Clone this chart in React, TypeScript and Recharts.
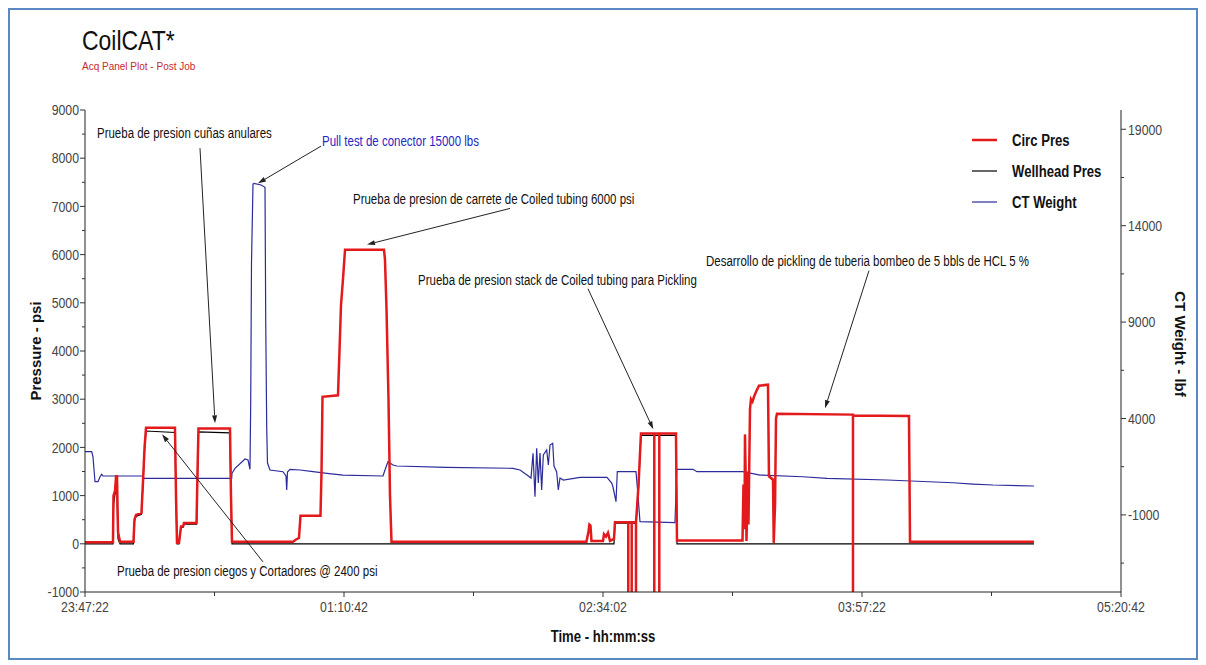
import React from 'react';
import { LineChart, Line, XAxis, YAxis, ReferenceLine, ReferenceDot } from 'recharts';

const SANS = "'Liberation Sans', Arial, sans-serif";
// Arial-metric font squeezed horizontally to get a narrow face
const NARROW_SCALE = 0.82;

const WIDTH = 1190;
const HEIGHT = 652;

// time is counted in seconds after 23:47:22
const START_SEC = 23 * 3600 + 47 * 60 + 22;
const timeTicks = [0, 2500, 5000, 7500, 10000, 12500, 15000, 17500, 20000];
const pressureTicks = [-1000, -500, 0, 500, 1000, 1500, 2000, 2500, 3000, 3500, 4000, 4500, 5000, 5500, 6000, 6500, 7000, 7500, 8000, 8500, 9000];
const weightTicks = [-3500, -1000, 1500, 4000, 6500, 9000, 11500, 14000, 16500, 19000];

// [seconds, psi]
const circPres: [number, number][] = [
  [0, 30], [540, 30], [550, 1000], [580, 1100], [600, 1400], [618, 1400], [637, 250], [676, 40],
  [936, 40], [955, 500], [985, 600], [1090, 640], [1120, 1300], [1150, 2000], [1178, 2410], [1737, 2410],
  [1757, 1000], [1776, 20], [1815, 20], [1853, 360], [1892, 360], [1911, 430], [2153, 430], [2172, 1500],
  [2191, 2390], [2799, 2390], [2818, 1000], [2838, 40], [4015, 40], [4073, 90], [4131, 120], [4160, 580],
  [4546, 580], [4566, 1500], [4585, 3050], [4884, 3080], [4913, 4000], [4942, 4950], [4981, 5500], [5020, 6100],
  [5772, 6100], [5791, 5900], [5820, 4900], [5859, 3000], [5888, 1000], [5917, 40], [9680, 40], [9719, 250],
  [9738, 400], [9758, 380], [9777, 60], [10000, 60], [10019, 200], [10058, 150], [10096, 230], [10135, 60],
  [10212, 100], [10231, 445], [10488, 445], [10488, -1000], [10488, 445], [10554, 445], [10554, -1000], [10554, 445],
  [10637, 445], [10637, -1000], [10637, 445], [10685, 1200], [10733, 2290], [10990, 2290], [10990, -1000], [10990, 2290],
  [11087, 2290], [11087, -1000], [11087, 2290], [11409, 2290], [11428, 70], [12693, 70], [12712, 1230], [12732, 300],
  [12741, 2270], [12760, 1000], [12770, 60], [12799, 1500], [12808, 400], [12838, 2800], [12857, 3000], [12886, 2950],
  [12915, 3050], [12953, 3150], [13011, 3280], [13185, 3300], [13204, 1400], [13282, 1330], [13296, 20], [13321, 800],
  [13340, 2600], [13359, 2700], [14826, 2680], [14826, -1000], [14826, 2660], [15907, 2650], [15927, 40], [18320, 40],
];

// [seconds, psi]
const wellheadPres: [number, number][] = [
  [0, 0], [540, 0], [550, 800], [575, 1000], [600, 1150], [618, 1000], [637, 100], [676, 0],
  [936, 0], [955, 470], [985, 570], [1090, 610], [1120, 1250], [1150, 1950], [1178, 2340], [1737, 2310],
  [1757, 900], [1776, 0], [1815, 0], [1853, 340], [1892, 340], [1911, 410], [2153, 410], [2172, 1400],
  [2191, 2320], [2799, 2300], [2818, 900], [2838, 0], [10212, 0], [10231, 430], [10637, 430], [10685, 1150],
  [10733, 2250], [11409, 2250], [11428, 0], [18320, 0],
];

// [seconds, lbf]
const ctWeight: [number, number][] = [
  [0, 2276], [129, 2276], [154, 2016], [193, 720], [251, 720], [290, 979], [322, 1104], [347, 1016],
  [1120, 1016], [1139, 896], [2832, 896], [2838, 1156], [2896, 1415], [3089, 1897], [3147, 1845], [3185, 1363],
  [3199, 4800], [3214, 12000], [3243, 16162], [3263, 16190], [3398, 16110], [3475, 15990], [3489, 9000], [3508, 3500],
  [3523, 1690], [3571, 1327], [3822, 1239], [3880, 1016], [3894, 289], [3909, 1223], [3958, 1363], [4151, 1327],
  [4402, 1239], [4672, 1156], [4981, 1067], [5753, 1016], [5791, 1327], [5849, 1757], [5946, 1586], [6017, 1534],
  [6969, 1467], [8263, 1415], [8398, 1327], [8533, 1067], [8610, 911], [8649, 2193], [8687, -58], [8720, 2452],
  [8751, 653], [8784, 2209], [8816, 289], [8848, 2105], [8913, 2364], [8945, 1586], [8977, 2624], [9029, 2711],
  [9054, 1534], [9106, 1223], [9137, 289], [9170, 911], [9234, 808], [9556, 948], [10077, 948], [10168, 653],
  [10193, 445], [10251, -318], [10276, 1239], [10637, 1239], [10675, 30], [10714, -1355], [11390, -1400], [11423, 1363],
  [11737, 1363], [11814, 1239], [12702, 1239], [13031, 1067], [13861, 979], [14324, 896], [15483, 808], [16757, 667],
  [17143, 600], [17529, 549], [18320, 497],
];

// callouts: text anchor and arrow, in [seconds, psi]
const notes = [
  { text: 'Prueba de presion cuñas anulares', color: '#111', at: [232, 8521], from: [2220, 8208], to: [2510, 2500] },
  { text: 'Pull test de conector 15000 lbs', color: '#2626c4', at: [4575, 8354], from: [4556, 8250], to: [3340, 7479] },
  { text: 'Prueba de presion de carrete de Coiled tubing 6000 psi', color: '#111', at: [5174, 7146], from: [8205, 6958], to: [5444, 6208] },
  { text: 'Prueba de presion stack de Coiled tubing para Pickling', color: '#111', at: [6429, 5479], from: [9710, 5292], to: [10971, 2375] },
  { text: 'Desarrollo de pickling de tuberia bombeo de 5 bbls de HCL 5 %', color: '#111', at: [11988, 5875], from: [15135, 5667], to: [14286, 2813] },
  { text: 'Prueba de presion ciegos y Cortadores @ 2400 psi', color: '#111', at: [618, -563], from: [3436, -375], to: [1487, 2271] },
];

const legendItems = [
  { name: 'Circ Pres', color: '#e3191c', width: 2.5 },
  { name: 'Wellhead Pres', color: '#000000', width: 1.2 },
  { name: 'CT Weight', color: '#2b2b9c', width: 1.2 },
];

const toRows = (pts: [number, number][]) => pts.map(([t, v]) => ({ t, v }));

const fmtTime = (s: number) => {
  const c = (START_SEC + s) % 86400;
  const p = (n: number) => String(n).padStart(2, '0');
  return `${p(Math.floor(c / 3600))}:${p(Math.floor((c % 3600) / 60))}:${p(c % 60)}`;
};

type NarrowProps = {
  x: number;
  y: number;
  size: number;
  anchor?: 'start' | 'middle' | 'end';
  weight?: string;
  fill?: string;
  children: React.ReactNode;
};

// text placed at (x, y) with vertical centre on y, squeezed horizontally
const NarrowText = ({ x, y, size, anchor = 'start', weight = 'normal', fill = '#111', children }: NarrowProps) => (
  <text
    transform={`translate(${x} ${y}) scale(${NARROW_SCALE} 1)`}
    x={0} y={0} dy="0.35em" textAnchor={anchor}
    fontFamily={SANS} fontSize={size} fontWeight={weight} fill={fill}
  >
    {children}
  </text>
);

const TICK_SIZE = 15;
const TICK_FILL = '#444';

// tickSize 5 + tickMargin 3 => axis line sits 8px from the label anchor
const TimeTick = ({ x, y, payload }: any) => {
  const major = payload.value % 5000 === 0;
  const ay = y - 8;
  return (
    <g>
      <line x1={x} x2={x} y1={ay} y2={ay + (major ? 5 : 4)} stroke="#333" />
      {major && (
        <NarrowText x={x} y={ay + 15} size={TICK_SIZE} anchor="middle" fill={TICK_FILL}>
          {fmtTime(payload.value)}
        </NarrowText>
      )}
    </g>
  );
};

const PressureTick = ({ x, y, payload }: any) => {
  const major = payload.value % 1000 === 0;
  const ax = x + 8;
  return (
    <g>
      <line x1={ax - (major ? 5 : 3)} x2={ax} y1={y} y2={y} stroke="#333" />
      {major && (
        <NarrowText x={ax - 6} y={y} size={TICK_SIZE} anchor="end" fill={TICK_FILL}>
          {payload.value}
        </NarrowText>
      )}
    </g>
  );
};

const WeightTick = ({ x, y, payload }: any) => {
  const major = (payload.value + 1000) % 5000 === 0;
  const ax = x - 8;
  return (
    <g>
      <line x1={ax} x2={ax + (major ? 5 : 3)} y1={y} y2={y} stroke="#333" />
      {major && (
        <NarrowText x={ax + 7} y={y} size={TICK_SIZE} anchor="start" fill={TICK_FILL}>
          {payload.value}
        </NarrowText>
      )}
    </g>
  );
};

const arrowShape = (props: any) => {
  const { x1, y1, x2, y2 } = props;
  if ([x1, y1, x2, y2].some((n) => typeof n !== 'number')) return <g />;
  const ang = Math.atan2(y2 - y1, x2 - x1);
  const len = 8;
  const half = 2.5;
  const bx = x2 - len * Math.cos(ang);
  const by = y2 - len * Math.sin(ang);
  const px = -Math.sin(ang) * half;
  const py = Math.cos(ang) * half;
  return (
    <g>
      <line x1={x1} y1={y1} x2={bx} y2={by} stroke="#222" strokeWidth={1} />
      <polygon points={`${x2},${y2} ${bx + px},${by + py} ${bx - px},${by - py}`} fill="#222" />
    </g>
  );
};

const noteLabel = (text: string, color: string) => (props: any) => (
  <NarrowText x={props.cx} y={props.cy} size={14} fill={color}>
    {text}
  </NarrowText>
);

export default function App() {
  return (
    <div style={{ position: 'relative', width: WIDTH, height: HEIGHT, background: '#fff' }}>
      <div
        style={{
          position: 'absolute', left: 0, top: 0, width: WIDTH, height: HEIGHT,
          border: '2px solid #5a88c2', boxSizing: 'border-box',
        }}
      />
      <div style={{ position: 'absolute', left: 0, top: 0 }}>
        <LineChart width={WIDTH} height={HEIGHT} margin={{ top: 102, right: 0, bottom: 28, left: 0 }}>
          <XAxis
            xAxisId="bottom" dataKey="t" type="number" domain={[0, 20000]} ticks={timeTicks} interval={0}
            height={40} tickSize={5} tickMargin={3} tickLine={false} tick={<TimeTick />}
            axisLine={{ stroke: '#222' }}
          />
          <XAxis
            xAxisId="top" orientation="top" mirror type="number" domain={[0, 20000]} ticks={timeTicks} interval={0}
            height={0} tickSize={5} tick={false} tickLine={{ stroke: '#333' }} axisLine={{ stroke: '#222' }}
          />
          <YAxis
            yAxisId="left" type="number" domain={[-1000, 9000]} ticks={pressureTicks} interval={0}
            width={77} tickSize={5} tickMargin={3} tickLine={false} tick={<PressureTick />}
            axisLine={{ stroke: '#222' }}
          />
          <YAxis
            yAxisId="right" orientation="right" type="number" domain={[-5000, 20000]} ticks={weightTicks} interval={0}
            width={77} tickSize={5} tickMargin={3} tickLine={false} tick={<WeightTick />}
            axisLine={{ stroke: '#222' }}
          />
          <Line
            xAxisId="bottom" yAxisId="right" data={toRows(ctWeight)} dataKey="v" type="linear"
            stroke="#2b2b9c" strokeWidth={1.2} dot={false} activeDot={false} isAnimationActive={false}
          />
          <Line
            xAxisId="bottom" yAxisId="left" data={toRows(wellheadPres)} dataKey="v" type="linear"
            stroke="#000" strokeWidth={1.2} dot={false} activeDot={false} isAnimationActive={false}
          />
          <Line
            xAxisId="bottom" yAxisId="left" data={toRows(circPres)} dataKey="v" type="linear"
            stroke="#e3191c" strokeWidth={2.5} dot={false} activeDot={false} isAnimationActive={false}
          />
          {notes.map((n) => (
            <ReferenceLine
              key={`arrow-${n.text}`} xAxisId="bottom" yAxisId="left"
              segment={[{ x: n.from[0], y: n.from[1] }, { x: n.to[0], y: n.to[1] }]}
              shape={arrowShape}
            />
          ))}
          {notes.map((n) => (
            <ReferenceDot
              key={`note-${n.text}`} xAxisId="bottom" yAxisId="left"
              x={n.at[0]} y={n.at[1]} r={1} shape={noteLabel(n.text, n.color)}
            />
          ))}
        </LineChart>
      </div>
      <svg width={WIDTH} height={HEIGHT} style={{ position: 'absolute', left: 0, top: 0, pointerEvents: 'none' }}>
        <NarrowText x={74} y={32} size={28} fill="#111">CoilCAT*</NarrowText>
        <text x={74} y={62} fontFamily={SANS} fontSize={10} fill="#c8282d">Acq Panel Plot - Post Job</text>
        <text
          x={28} y={343} transform="rotate(-90 28 343)" textAnchor="middle" dy="0.35em"
          fontFamily={SANS} fontWeight="bold" fontSize={15} fill="#111"
        >
          Pressure - psi
        </text>
        <text
          x={1172} y={336} transform="rotate(90 1172 336)" textAnchor="middle" dy="0.35em"
          fontFamily={SANS} fontWeight="bold" fontSize={15} fill="#111"
        >
          CT Weight - lbf
        </text>
        <NarrowText x={595} y={628} size={16} anchor="middle" weight="bold">Time - hh:mm:ss</NarrowText>
        {legendItems.map((it, i) => {
          const y = 132 + i * 31;
          return (
            <g key={it.name}>
              <line x1={964} x2={989} y1={y} y2={y} stroke={it.color} strokeWidth={it.width} />
              <NarrowText x={1004} y={y} size={16} weight="bold">{it.name}</NarrowText>
            </g>
          );
        })}
      </svg>
    </div>
  );
}
